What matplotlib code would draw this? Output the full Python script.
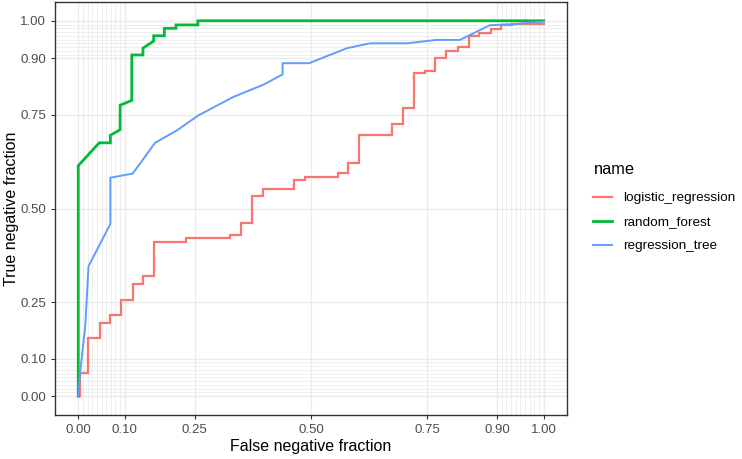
import matplotlib.pyplot as plt
import numpy as np

plt.rcParams["font.family"] = ["Liberation Sans", "DejaVu Sans"]

# ROC vertices (false negative fraction, true negative fraction)
lr_x = [0.0, 0.004, 0.004, 0.022, 0.022, 0.046, 0.046, 0.069, 0.069, 0.092, 0.092, 0.117, 0.117,
        0.140, 0.140, 0.163, 0.163, 0.232, 0.232, 0.326, 0.326, 0.349, 0.349, 0.373, 0.373, 0.398,
        0.398, 0.464, 0.464, 0.487, 0.487, 0.559, 0.559, 0.580, 0.580, 0.604, 0.604, 0.675, 0.675,
        0.698, 0.698, 0.722, 0.722, 0.745, 0.745, 0.767, 0.767, 0.791, 0.791, 0.816, 0.816, 0.839,
        0.839, 0.861, 0.861, 0.886, 0.886, 0.909, 0.909, 0.932, 0.932, 1.0]
lr_y = [0.0, 0.0, 0.063, 0.063, 0.156, 0.156, 0.195, 0.195, 0.215, 0.215, 0.256, 0.256, 0.300,
        0.300, 0.319, 0.319, 0.410, 0.410, 0.421, 0.421, 0.430, 0.430, 0.462, 0.462, 0.533, 0.533,
        0.553, 0.553, 0.576, 0.576, 0.584, 0.584, 0.595, 0.595, 0.622, 0.622, 0.695, 0.695, 0.726,
        0.726, 0.767, 0.767, 0.860, 0.860, 0.867, 0.867, 0.901, 0.901, 0.920, 0.920, 0.929, 0.929,
        0.960, 0.960, 0.968, 0.968, 0.979, 0.979, 0.989, 0.989, 0.992, 0.992]

rf_x = [0.0, 0.0, 0.045, 0.069, 0.069, 0.090, 0.090, 0.115, 0.115, 0.139, 0.139, 0.162, 0.162,
        0.185, 0.185, 0.210, 0.210, 0.257, 0.257, 1.0]
rf_y = [0.0, 0.614, 0.675, 0.675, 0.695, 0.710, 0.775, 0.788, 0.909, 0.909, 0.927, 0.946, 0.960,
        0.960, 0.980, 0.980, 0.989, 0.989, 1.0, 1.0]

rt_x = [0.0, 0.004, 0.015, 0.022, 0.069, 0.069, 0.117, 0.165, 0.212, 0.258, 0.333, 0.398, 0.439,
        0.439, 0.496, 0.577, 0.627, 0.705, 0.770, 0.820, 0.884, 0.934, 1.0]
rt_y = [0.0, 0.063, 0.186, 0.346, 0.459, 0.582, 0.593, 0.675, 0.708, 0.748, 0.797, 0.830, 0.857,
        0.887, 0.887, 0.927, 0.940, 0.940, 0.949, 0.949, 0.988, 0.991, 0.998]

names = ["logistic_regression", "random_forest", "regression_tree"]
colors = ["#F8766D", "#00BA38", "#619CFF"]
widths = [1.6, 2.0, 1.4]

major = [0.0, 0.1, 0.25, 0.5, 0.75, 0.9, 1.0]
minor = [0.01, 0.02, 0.03, 0.04, 0.05, 0.06, 0.07, 0.08, 0.09,
         0.91, 0.92, 0.93, 0.94, 0.95, 0.96, 0.97, 0.98, 0.99]
tick_labels = ["0.00", "0.10", "0.25", "0.50", "0.75", "0.90", "1.00"]

fig = plt.figure(figsize=(7.42, 4.59), dpi=100)
ax = fig.add_axes([0.0741, 0.0959, 0.6900, 0.8997])

for v in minor:
    ax.axvline(v, color="#EBEBEB", lw=0.6, zorder=0)
    ax.axhline(v, color="#EBEBEB", lw=0.6, zorder=0)
for v in major:
    ax.axvline(v, color="#EBEBEB", lw=1.0, zorder=0)
    ax.axhline(v, color="#EBEBEB", lw=1.0, zorder=0)

series = [(lr_x, lr_y), (rf_x, rf_y), (rt_x, rt_y)]
for (xs, ys), name, c, w in zip(series, names, colors, widths):
    ax.plot(xs, ys, color=c, lw=w, label=name, solid_joinstyle="miter")

ax.set_xlim(-0.05, 1.05)
ax.set_ylim(-0.05, 1.05)
ax.set_xticks(major)
ax.set_xticklabels(tick_labels)
ax.set_yticks(major)
ax.set_yticklabels(tick_labels)
ax.tick_params(colors="#333333", labelcolor="#4D4D4D", labelsize=9.5, length=3, width=0.8)
for s in ax.spines.values():
    s.set_color("#333333")
    s.set_linewidth(1.0)

ax.set_xlabel("False negative fraction", fontsize=11.5, color="black", labelpad=2)
ax.set_ylabel("True negative fraction", fontsize=11.5, color="black", labelpad=1)

fig.text(594 / 742, 1 - 169 / 459, "name", fontsize=11.8, va="center", ha="left")
leg = fig.legend(loc="upper left", bbox_to_anchor=(0.783, 0.608), frameon=False,
                 fontsize=9.7, handlelength=1.4, handletextpad=0.8, labelspacing=0.85)

fig.savefig("out.png", dpi=100)
